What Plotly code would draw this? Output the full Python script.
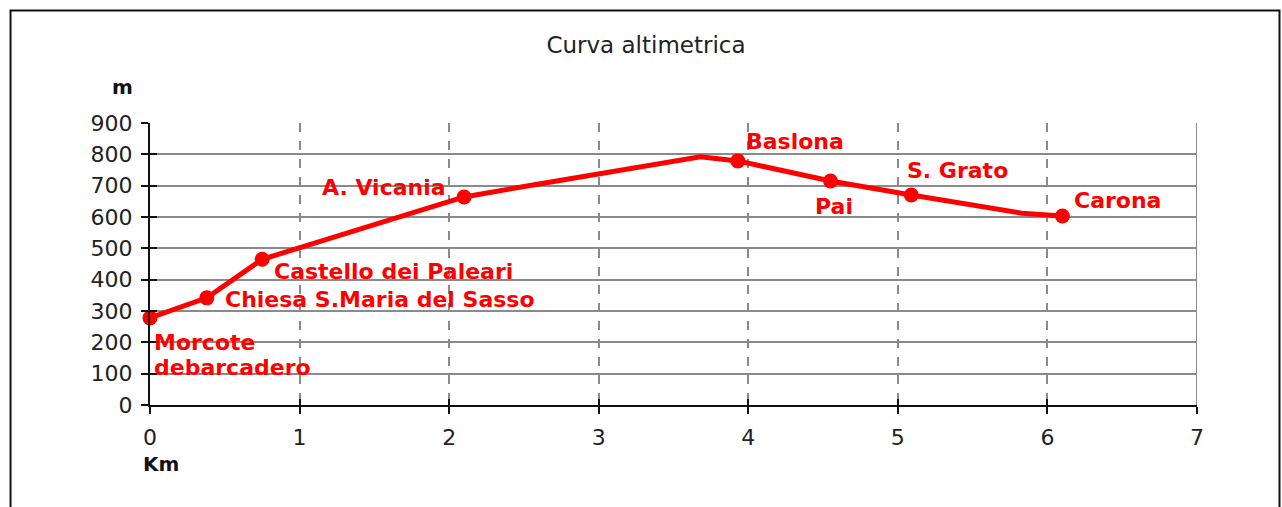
import plotly.graph_objects as go

# Data
km = [0.0, 0.38, 0.75, 2.10, 2.57, 3.68, 3.93, 4.55, 5.09, 5.83, 6.10]
quota = [278, 342, 465, 664, 703, 792, 779, 715, 670, 612, 603]

label_names = ["Morcote<br>debarcadero", "Chiesa S.Maria del Sasso", "Castello dei Paleari",
               "A. Vicania", "Baslona", "Pai", "S. Grato", "Carona"]
label_km = [0.0, 0.38, 0.75, 2.10, 3.93, 4.55, 5.09, 6.10]
label_quota = [278, 342, 465, 664, 779, 715, 670, 603]

x_ticks = [0, 1, 2, 3, 4, 5, 6, 7]
y_ticks = [0, 100, 200, 300, 400, 500, 600, 700, 800, 900]

RED = "#ff0000"
GRID = "#8a8a8a"
FONT = "DejaVu Sans"

fig = go.Figure()
fig.add_trace(go.Scatter(
    x=km, y=quota, mode="lines", line=dict(color=RED, width=5),
    cliponaxis=False, showlegend=False, hoverinfo="skip"))
fig.add_trace(go.Scatter(
    x=label_km, y=label_quota, mode="markers",
    marker=dict(color=RED, size=15, line=dict(width=0)),
    cliponaxis=False, showlegend=False))
# dummy trace for overlay axes (inside tick halves)
fig.add_trace(go.Scatter(x=[None], y=[None], xaxis="x2", yaxis="y2",
                         showlegend=False, hoverinfo="skip"))

# label placement (pixel offsets from point)
placements = [
    dict(xanchor="left", yanchor="middle", xshift=2, yshift=-25),
    dict(xanchor="left", yanchor="middle", xshift=16, yshift=-2),
    dict(xanchor="left", yanchor="middle", xshift=10, yshift=-12),
    dict(xanchor="right", yanchor="middle", xshift=-16, yshift=9),
    dict(xanchor="left", yanchor="middle", xshift=6, yshift=19),
    dict(xanchor="left", yanchor="middle", xshift=-18, yshift=-26),
    dict(xanchor="left", yanchor="middle", xshift=-6, yshift=25),
    dict(xanchor="left", yanchor="middle", xshift=10, yshift=16),
]
for name, xv, yv, p in zip(label_names, label_km, label_quota, placements):
    for i, line in enumerate(name.split("<br>")):
        q = dict(p)
        q["yshift"] = p["yshift"] - 25 * i
        fig.add_annotation(x=xv, y=yv, text=f"<b>{line}</b>", showarrow=False,
                           font=dict(family=FONT, size=22, color=RED), **q)

# axis titles
fig.add_annotation(xref="paper", yref="paper", x=-0.0258, y=1.1277, text="<b>m</b>",
                   showarrow=False, font=dict(family=FONT, size=20, color="#111"),
                   xanchor="center", yanchor="middle")
fig.add_annotation(xref="paper", yref="paper", x=0.0105, y=-0.2092, text="<b>Km</b>",
                   showarrow=False, font=dict(family=FONT, size=20, color="#111"),
                   xanchor="center", yanchor="middle")

shapes = [
    # right border of plot area (solid gray)
    dict(type="line", xref="x", yref="y", x0=x_ticks[-1], x1=x_ticks[-1],
         y0=y_ticks[0], y1=y_ticks[-1], line=dict(color=GRID, width=2), layer="below"),
    # outer frame
    dict(type="rect", xref="paper", yref="paper", x0=-0.1332, x1=1.0788,
         y0=-0.6, y1=1.3989, line=dict(color="#111", width=2)),
]

fig.update_layout(
    width=1282, height=507,
    margin=dict(l=150, r=85, t=123, b=102),
    paper_bgcolor="white", plot_bgcolor="white",
    title=dict(text="Curva altimetrica", x=646 / 1282, xref="container", xanchor="center",
               y=1 - 45 / 507, yref="container", yanchor="middle",
               font=dict(family=FONT, size=23, color="#222")),
    xaxis=dict(range=[0, 7], tickvals=x_ticks, showline=True, linecolor="#111", linewidth=2,
               ticks="outside", ticklen=7, tickwidth=2, tickcolor="#111",
               showgrid=True, gridcolor=GRID, gridwidth=2, griddash="dash",
               zeroline=False, ticklabelstandoff=5,
               tickfont=dict(family=FONT, size=22, color="#222"), fixedrange=True),
    yaxis=dict(range=[0, 900], tickvals=y_ticks, showline=True, linecolor="#111", linewidth=2,
               ticks="outside", ticklen=7, tickwidth=2, tickcolor="#111",
               showgrid=True, gridcolor=GRID, gridwidth=2,
               zeroline=False, ticklabelstandoff=4,
               tickfont=dict(family=FONT, size=22, color="#222"), fixedrange=True),
    xaxis2=dict(range=[0, 7], tickvals=x_ticks, overlaying="x", side="bottom",
                showline=False, ticks="inside", ticklen=6, tickwidth=2, tickcolor="#111",
                showticklabels=False, showgrid=False, zeroline=False),
    yaxis2=dict(range=[0, 900], tickvals=y_ticks, overlaying="y", side="left",
                showline=False, ticks="inside", ticklen=7, tickwidth=2, tickcolor="#111",
                showticklabels=False, showgrid=False, zeroline=False),
    shapes=shapes,
    showlegend=False,
)

fig.write_html("out.html", config={"displayModeBar": False},
               post_script="document.body.style.margin='0px';document.body.style.overflow='hidden';")
